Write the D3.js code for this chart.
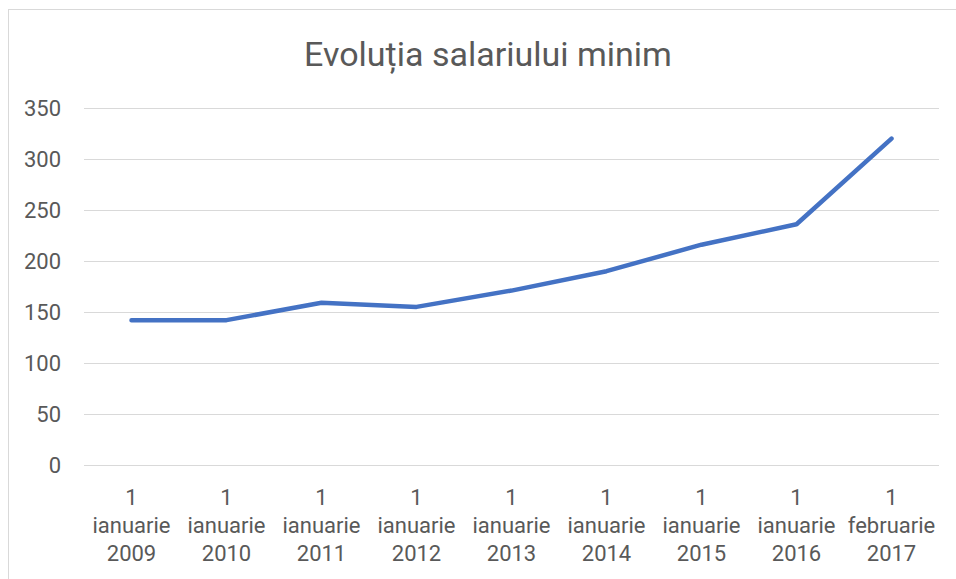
<!DOCTYPE html>
<html>
<head>
<meta charset="utf-8">
<script src="https://cdn.jsdelivr.net/npm/d3@7"></script>
<style>
  body { margin: 0; background: #fff; }
  svg { display: block; }
  text { font-family: Roboto, "Open Sans", sans-serif; fill: #595959; }
</style>
</head>
<body>
<svg width="956" height="579"></svg>
<script>
// data
var dates = ['1 ianuarie 2009', '1 ianuarie 2010', '1 ianuarie 2011', '1 ianuarie 2012',
  '1 ianuarie 2013', '1 ianuarie 2014', '1 ianuarie 2015', '1 ianuarie 2016', '1 februarie 2017'];
var salary = [142, 142, 159, 155, 171, 190, 216, 236, 320];
var yTicks = [0, 50, 100, 150, 200, 250, 300, 350];
var title = 'Evoluția salariului minim';

var svg = d3.select('svg');

// chart frame
svg.append('rect')
  .attr('x', 8.5).attr('y', 9.5)
  .attr('width', 1000).attr('height', 700)
  .attr('fill', 'none')
  .attr('stroke', '#d9d9d9');

var plotLeft = 84, plotRight = 939, plotTop = 108, plotBottom = 465;

var x = d3.scaleBand().domain(dates).range([plotLeft, plotRight]);
var y = d3.scaleLinear().domain([0, 350]).range([plotBottom, plotTop]);

svg.append('text')
  .attr('x', 488).attr('y', 66)
  .attr('text-anchor', 'middle')
  .style('font-size', '34px')
  .text(title);

// gridlines + y labels
var yAxis = svg.append('g')
  .attr('transform', 'translate(' + plotLeft + ',0)')
  .call(d3.axisLeft(y).tickValues(yTicks).tickSize(-(plotRight - plotLeft)).tickPadding(23));
yAxis.select('.domain').remove();
yAxis.selectAll('line').attr('stroke', '#d9d9d9').attr('stroke-width', 1);
yAxis.selectAll('text')
  .style('font-size', '22px')
  .style('font-family', 'Roboto, sans-serif')
  .attr('fill', '#595959');

// x labels, three lines each
var xLab = svg.append('g');
dates.forEach(function(d){
  var parts = d.split(' ');
  var t = xLab.append('text')
    .attr('text-anchor', 'middle')
    .style('font-size', '22px');
  parts.forEach(function(p, i){
    t.append('tspan')
      .attr('x', x(d) + x.bandwidth() / 2)
      .attr('y', 505 + i * 28)
      .text(p);
  });
});

var line = d3.line()
  .x(function(d, i){ return x(dates[i]) + x.bandwidth() / 2; })
  .y(function(d){ return y(d); });

svg.append('path')
  .datum(salary)
  .attr('d', line)
  .attr('fill', 'none')
  .attr('stroke', '#4472c4')
  .attr('stroke-width', 4.5)
  .attr('stroke-linecap', 'round')
  .attr('stroke-linejoin', 'round');
</script>
</body>
</html>
